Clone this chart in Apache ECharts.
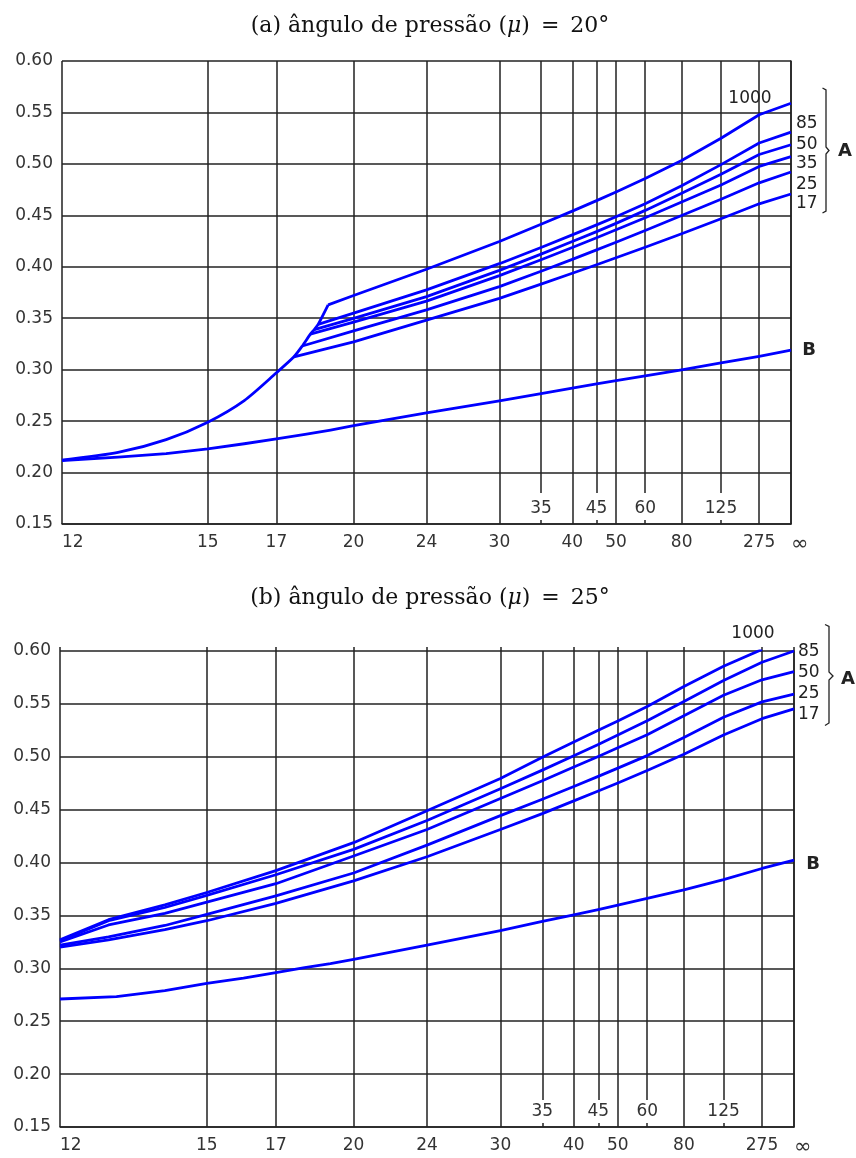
<!DOCTYPE html>
<html>
<head>
<meta charset="utf-8">
<script src="https://cdn.jsdelivr.net/npm/echarts@6/dist/echarts.min.js"></script>
<style>
  html, body { margin: 0; padding: 0; background: #fff; }
  #box { width: 856px; height: 1158px; }
</style>
</head>
<body>
<div id="box"></div>
<script>
// eixo x: número de dentes (escala em 1/N)
const ticksMain = [12, 15, 17, 20, 24, 30, 40, 50, 80, 275, Infinity];
const ticksInner = [35, 45, 60, 125];

// (a) 20° - curva B (carga na ponta)
const nB = [12, 13, 14, 15, 16, 17, 18, 19, 20, 24, 30, 35, 40, 45, 50, 60, 80, 125, 275, Infinity];
const yB20 = [0.2117, 0.2150, 0.2185, 0.2230, 0.2280, 0.2327, 0.2370, 0.2413, 0.2456, 0.2580, 0.2697,
  0.2768, 0.2821, 0.2862, 0.2893, 0.2940, 0.2998, 0.3065, 0.3130, 0.3190];

// (a) 20° - trecho comum das curvas A (até a curva 1000 se separar)
const nEnv20 = [12, 13, 14, 15, 16, 17, 17.6, 17.9, 18.2, 18.35, 18.5, 18.9];
const yEnv20 = [0.212, 0.2195, 0.232, 0.249, 0.2700, 0.2970, 0.3125, 0.323, 0.3345, 0.339, 0.344, 0.363];

// (a) 20° - trecho de cada curva A depois da separação
const nTail20 = [20, 24, 30, 35, 40, 45, 50, 60, 80, 125, 275, Infinity];
const matesA20 = ['1000', '85', '50', '35', '25', '17'];
const branchA20 = [11, 10, 9, 8, 7, 6]; // índice do ponto de separação em nEnv20
const tailA20 = [
  [0.3721, 0.3976, 0.4246, 0.4413, 0.4541, 0.4643, 0.4726, 0.4857, 0.5033, 0.5249, 0.5478, 0.5589],
  [0.3549, 0.3775, 0.4030, 0.4188, 0.4310, 0.4407, 0.4487, 0.4613, 0.4788, 0.4993, 0.5203, 0.5308],
  [0.3499, 0.3710, 0.3965, 0.4123, 0.4245, 0.4342, 0.4422, 0.4548, 0.4715, 0.4900, 0.5091, 0.5186],
  [0.3462, 0.3666, 0.3914, 0.4068, 0.4187, 0.4282, 0.4360, 0.4477, 0.4630, 0.4795, 0.4975, 0.5070],
  [0.3377, 0.3581, 0.3807, 0.3957, 0.4072, 0.4164, 0.4238, 0.4352, 0.4498, 0.4656, 0.4816, 0.4921],
  [0.3271, 0.3482, 0.3693, 0.3831, 0.3937, 0.4020, 0.4088, 0.4190, 0.4321, 0.4467, 0.4612, 0.4707]
];

// (b) 25°
const yB25 = [0.2710, 0.2733, 0.2789, 0.2858, 0.2907, 0.2960, 0.3007, 0.3045, 0.3085, 0.3220, 0.3357,
  0.3443, 0.3506, 0.3555, 0.3598, 0.3662, 0.3742, 0.3838, 0.3944, 0.4023];
const nA25 = [12, 12.85, 14, 15, 17, 20, 24, 30, 35, 40, 45, 50, 60, 80, 125, 275, Infinity];
const matesA25 = ['1000', '85', '50', '25', '17'];
const yA25 = [
  [0.327, 0.346, 0.360, 0.3717, 0.3924, 0.4188, 0.449, 0.4795, 0.4995, 0.514, 0.525, 0.5339, 0.5475, 0.5665, 0.5855, 0.6015],
  [0.326, 0.345, 0.3575, 0.369, 0.3885, 0.4125, 0.4397, 0.4698, 0.4874, 0.5009, 0.5117, 0.5205, 0.5340, 0.5523, 0.5721, 0.5894, 0.600],
  [0.325, 0.341, 0.352, 0.3625, 0.380, 0.4062, 0.4312, 0.4606, 0.4774, 0.4903, 0.5003, 0.5085, 0.5208, 0.5388, 0.5582, 0.5728, 0.5805],
  [0.322, 0.3298, 0.3405, 0.351, 0.3685, 0.3901, 0.4165, 0.4444, 0.4599, 0.4719, 0.4815, 0.4893, 0.5011, 0.5183, 0.5373, 0.5519, 0.5593],
  [0.320, 0.327, 0.3365, 0.345, 0.3615, 0.3827, 0.4055, 0.4312, 0.4463, 0.4583, 0.4676, 0.4752, 0.4870, 0.5024, 0.5206, 0.5360, 0.5453]
];

const gridColor = '#222';
const blue = '#0000ff';
const labelFont = { fontFamily: 'DejaVu Sans', fontSize: 17, color: '#333' };

const grids = [
  { left: 62, top: 61, width: 729, height: 463 },
  { left: 60, top: 651, width: 734, height: 480 }
];
// comprimento das linhas parciais (35, 45, 60, 125)
const partial = [432, 449];

function tickLabel(v) {
  if (v === 0) return '{inf|∞}';
  return String(Math.round(1 / v));
}

function pts(ns, ys) {
  return ys.map((y, i) => [1 / ns[i], y]);
}

let xAxes = [];
let yAxes = [];
grids.forEach((g, gi) => {
  let base = { type: 'value', gridIndex: gi, min: 0, max: 1 / 12, inverse: true, splitLine: { show: false } };
  let tickStyle = { color: gridColor, width: 1.5 };
  // eixo principal com rótulos e linhas verticais inteiras
  xAxes.push(Object.assign({}, base, {
    position: 'bottom',
    axisLine: { show: true, onZero: false, lineStyle: tickStyle },
    axisTick: { show: true, inside: true, length: g.height, customValues: ticksMain.map(n => 1 / n), lineStyle: tickStyle },
    axisLabel: Object.assign({
      customValues: ticksMain.map(n => 1 / n), formatter: tickLabel, margin: 10,
      alignMinLabel: 'left', alignMaxLabel: 'left',
      rich: { inf: { fontFamily: 'DejaVu Sans', fontSize: 21, color: '#333' } }
    }, labelFont)
  }));
  // linhas parciais vindas do topo
  xAxes.push(Object.assign({}, base, {
    position: 'top',
    axisLine: { show: false },
    axisTick: { show: true, inside: true, length: partial[gi], customValues: ticksInner.map(n => 1 / n), lineStyle: tickStyle },
    axisLabel: { show: false }
  }));
  // rótulos internos 35, 45, 60, 125
  xAxes.push(Object.assign({}, base, {
    position: 'bottom',
    axisLine: { show: false },
    axisTick: { show: true, inside: true, length: 4, customValues: ticksInner.map(n => 1 / n), lineStyle: tickStyle },
    axisLabel: Object.assign({ inside: true, customValues: ticksInner.map(n => 1 / n), formatter: tickLabel, margin: 7 }, labelFont)
  }));
  yAxes.push({
    type: 'value', gridIndex: gi, min: 0.15, max: 0.6, interval: 0.05,
    axisLine: { show: true, lineStyle: tickStyle },
    axisTick: { show: false },
    splitLine: { show: true, lineStyle: tickStyle },
    axisLabel: Object.assign({ formatter: v => v.toFixed(2), margin: 9 }, labelFont)
  });
});

function line(name, data, gi, smooth) {
  return {
    name: name, type: 'line', xAxisIndex: gi * 3, yAxisIndex: gi, data: data,
    showSymbol: false, symbol: 'none', clip: true, silent: true, smooth: smooth || false,
    lineStyle: { color: blue, width: 2.8, join: 'round' }, z: 3
  };
}

let series = [];
series.push(line('B', pts(nB, yB20), 0));
series.push(line('A', pts(nEnv20, yEnv20), 0, 0.25));
matesA20.forEach((m, i) => {
  let k = branchA20[i];
  let ns = [nEnv20[k]].concat(nTail20);
  let ys = [yEnv20[k]].concat(tailA20[i]);
  series.push(line(m, pts(ns, ys), 0));
});
series.push(line('B', pts(nB, yB25), 1));
matesA25.forEach((m, i) => {
  series.push(line(m, pts(nA25, yA25[i]), 1));
});

function txt(x, y, s, extra) {
  return {
    type: 'text', silent: true,
    style: Object.assign({ x: x, y: y, text: s, fill: '#222', font: '17px "DejaVu Sans"',
      textAlign: 'left', textVerticalAlign: 'middle' }, extra || {})
  };
}

function title(y, letter, deg) {
  return {
    type: 'text', silent: true,
    style: {
      x: 430, y: y, textAlign: 'center', textVerticalAlign: 'middle',
      text: '(' + letter + ') ângulo de pressão ({m|μ})\u2002=\u2002' + deg + '°',
      font: '22px "DejaVu Serif"', fill: '#111',
      rich: { m: { fontStyle: 'italic', fontFamily: 'DejaVu Serif', fontSize: 22, fill: '#111' } }
    }
  };
}

function brace(p) {
  return {
    type: 'polyline', silent: true,
    shape: { points: p },
    style: { stroke: '#222', lineWidth: 1.3, fill: null }
  };
}

let graphics = [
  title(26, 'a', '20'),
  title(598, 'b', '25'),
  txt(750, 99, '1000', { textAlign: 'center' }),
  txt(796, 124, '85'), txt(796, 145, '50'), txt(796, 164, '35'), txt(796, 185, '25'), txt(796, 204, '17'),
  txt(845, 151, 'A', { textAlign: 'center', font: 'bold 18px "DejaVu Sans"' }),
  txt(809, 350, 'B', { textAlign: 'center', font: 'bold 18px "DejaVu Sans"' }),
  brace([[822.5, 88], [826, 90], [826, 147], [829, 150.5], [826, 154], [826, 211], [822.5, 213]]),
  txt(753, 634, '1000', { textAlign: 'center' }),
  txt(798, 652, '85'), txt(798, 673, '50'), txt(798, 694, '25'), txt(798, 715, '17'),
  txt(848, 679, 'A', { textAlign: 'center', font: 'bold 18px "DejaVu Sans"' }),
  txt(813, 864, 'B', { textAlign: 'center', font: 'bold 18px "DejaVu Sans"' }),
  brace([[825, 624.5], [829, 626.5], [829, 672], [833, 676], [829, 680], [829, 723], [825, 725.5]])
];

let myChart = echarts.init(document.getElementById('box'));
let option = {
  animation: false,
  backgroundColor: '#fff',
  grid: grids,
  xAxis: xAxes,
  yAxis: yAxes,
  series: series,
  graphic: graphics
};
myChart.setOption(option);
</script>
</body>
</html>
